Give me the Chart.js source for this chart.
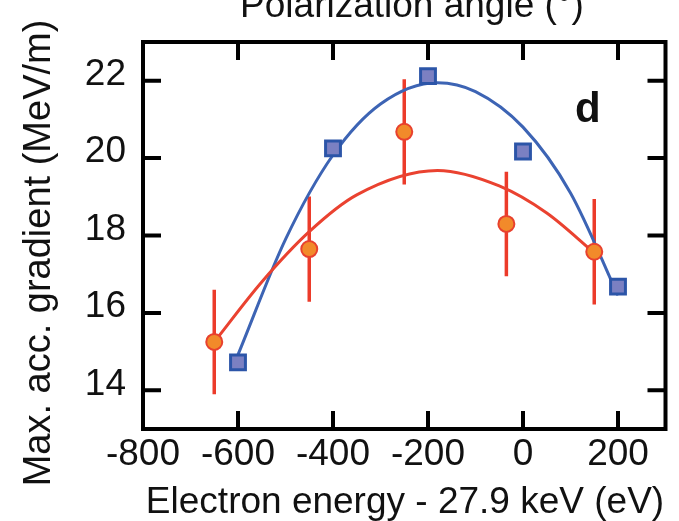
<!DOCTYPE html>
<html>
<head>
<meta charset="utf-8">
<script src="https://cdn.jsdelivr.net/npm/chart.js@4"></script>
<style>
  html, body { margin: 0; padding: 0; background: #fff; }
</style>
</head>
<body>
<canvas id="canvas" width="679" height="521"></canvas>
<script>
const xTicks = [-800, -600, -400, -200, 0, 200];
const yTicks = [14, 16, 18, 20, 22];

// blue squares
const blueX = [-600, -400, -200, 0, 200];
const blueY = [14.72, 20.25, 22.12, 20.17, 16.68];

// orange circles with error bars
const orangeX = [-650, -450, -250, -35, 150];
const orangeY = [15.25, 17.65, 20.68, 18.3, 17.58];
const orangeErr = [1.35, 1.36, 1.36, 1.35, 1.36];

// fit curves
const blueFitX = [-600, -500, -400, -300, -180, -100, 0, 100, 200];
const blueFitY = [14.92, 17.9, 20.08, 21.4, 21.95, 21.72, 20.8, 19.1, 16.45];
const redFitX = [-650, -550, -450, -350, -180, -50, 50, 150];
const redFitY = [15.25, 16.8, 18.1, 19.05, 19.68, 19.28, 18.58, 17.55];

const FONT = "'Liberation Sans', Arial, sans-serif";

const pts = (xs, ys) => xs.map((x, i) => ({ x: x, y: ys[i] }));

const framePlugin = {
  id: "frame",
  beforeDatasetsDraw(chart) {
    const { ctx, scales: { x, y } } = chart;
    ctx.save();
    ctx.strokeStyle = "#ec3b2a";
    ctx.lineWidth = 3.5;
    ctx.beginPath();
    orangeX.forEach((v, i) => {
      const px = x.getPixelForValue(v);
      ctx.moveTo(px, y.getPixelForValue(orangeY[i] + orangeErr[i]));
      ctx.lineTo(px, y.getPixelForValue(orangeY[i] - orangeErr[i]));
    });
    ctx.stroke();
    ctx.restore();
  },
  afterDraw(chart) {
    const { ctx, chartArea: a, scales: { x, y } } = chart;
    ctx.save();
    ctx.strokeStyle = "#000";
    ctx.lineWidth = 4;
    ctx.strokeRect(a.left, a.top, a.right - a.left, a.bottom - a.top);
    const len = 18;
    ctx.beginPath();
    xTicks.forEach(v => {
      if (v === x.min) return;
      const px = x.getPixelForValue(v);
      ctx.moveTo(px, a.bottom);
      ctx.lineTo(px, a.bottom - len);
      ctx.moveTo(px, a.top);
      ctx.lineTo(px, a.top + len);
    });
    yTicks.forEach(v => {
      const py = y.getPixelForValue(v);
      ctx.moveTo(a.left, py);
      ctx.lineTo(a.left + len, py);
      ctx.moveTo(a.right, py);
      ctx.lineTo(a.right - len, py);
    });
    ctx.stroke();

    ctx.fillStyle = "#111";
    ctx.textBaseline = "alphabetic";
    ctx.textAlign = "center";
    ctx.font = "37px " + FONT;
    ctx.fillText("Electron energy - 27.9 keV (eV)", 405, 513);
    ctx.fillText("Polarization angle (°)", 412, 17);

    ctx.save();
    ctx.translate(50, 253);
    ctx.rotate(-Math.PI / 2);
    ctx.font = "38px " + FONT;
    ctx.fillText("Max. acc. gradient (MeV/m)", 0, 0);
    ctx.restore();

    ctx.textAlign = "left";
    ctx.font = "bold 42px " + FONT;
    ctx.fillText("d", 575, 122);
    ctx.restore();
  }
};

const chart = new Chart(document.getElementById("canvas"), {
  type: "scatter",
  data: {
    datasets: [
      {
        label: "orange",
        data: pts(orangeX, orangeY),
        pointStyle: "circle",
        pointRadius: 8,
        pointBackgroundColor: "#f28a2a",
        pointBorderColor: "#e8412e",
        pointBorderWidth: 2,
        showLine: false
      },
      {
        label: "blue",
        data: pts(blueX, blueY),
        pointStyle: "rect",
        pointRadius: 10.5,
        pointBackgroundColor: "#7b80c2",
        pointBorderColor: "#2c55a8",
        pointBorderWidth: 3,
        showLine: false
      },
      {
        label: "red fit",
        data: pts(redFitX, redFitY),
        showLine: true,
        borderColor: "#ea4230",
        borderWidth: 3,
        pointRadius: 0,
        cubicInterpolationMode: "monotone"
      },
      {
        label: "blue fit",
        data: pts(blueFitX, blueFitY),
        showLine: true,
        borderColor: "#3d64b4",
        borderWidth: 3,
        pointRadius: 0,
        cubicInterpolationMode: "monotone"
      }
    ]
  },
  options: {
    responsive: false,
    animation: false,
    events: [],
    layout: { padding: { top: 42, right: 13, left: 0, bottom: 0 } },
    plugins: { legend: { display: false }, tooltip: { enabled: false } },
    scales: {
      x: {
        type: "linear",
        min: -800,
        max: 300,
        afterBuildTicks: s => { s.ticks = xTicks.map(v => ({ value: v })); },
        afterFit: s => { s.height = 92; },
        grid: { display: false, drawTicks: false },
        border: { display: false },
        ticks: { padding: 4, color: "#111", font: { family: FONT, size: 37 } }
      },
      y: {
        type: "linear",
        min: 13,
        max: 23,
        afterBuildTicks: s => { s.ticks = yTicks.map(v => ({ value: v })); },
        afterFit: s => { s.width = 143; },
        grid: { display: false, drawTicks: false },
        border: { display: false },
        ticks: { padding: 17, labelOffset: -6, color: "#111", font: { family: FONT, size: 37 } }
      }
    }
  },
  plugins: [framePlugin]
});
</script>
</body>
</html>
